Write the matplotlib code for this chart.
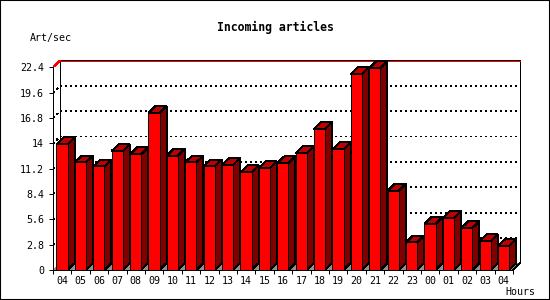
import matplotlib
matplotlib.use("Agg")
import matplotlib.pyplot as plt
from matplotlib.patches import Polygon, Rectangle

hours = ["04", "05", "06", "07", "08", "09", "10", "11", "12", "13", "14", "15", "16",
         "17", "18", "19", "20", "21", "22", "23", "00", "01", "02", "03", "04"]
values = [13.9, 11.9, 11.45, 13.15, 12.8, 17.35, 12.65, 11.9, 11.45, 11.6, 10.8, 11.25,
          11.8, 12.9, 15.6, 13.35, 21.65, 22.3, 8.75, 3.05, 5.1, 5.75, 4.65, 3.2, 2.65]
yticks = [0, 2.8, 5.6, 8.4, 11.2, 14, 16.8, 19.6, 22.4]
ytick_labels = ["0", "2.8", "5.6", "8.4", "11.2", "14", "16.8", "19.6", "22.4"]
title = "Incoming articles"
ylabel = "Art/sec"
xlabel = "Hours"

W, H = 550, 300
fig = plt.figure(figsize=(W / 100, H / 100), dpi=100)
fig.patch.set_facecolor("white")

n = len(values)
ymax = yticks[-1]
PXC = 18.4          # px per category
PXV = 9.05          # px per unit
DX = 7 / PXC        # depth in data units
DY = 6.8 / PXV

L, B = 53, 270
R = L + (n + DX) * PXC
T = B - (ymax + DY) * PXV
ax = fig.add_axes([L / W, 1 - B / H, (R - L) / W, (B - T) / H])
ax.set_xlim(0, n + DX)
ax.set_ylim(0, ymax + DY)
ax.set_facecolor("none")

lw = 0.72
mono = "DejaVu Sans Mono"

# floor
ax.add_patch(Polygon([(0, 0), (n, 0), (n + DX, DY), (DX, DY)], closed=True,
                     facecolor="#909090", edgecolor="none", zorder=1, antialiased=False))
ax.plot([n, n + DX], [0, DY], color="black", lw=lw, zorder=1.5, antialiased=False)

# back plane frame
ax.plot([DX, DX], [DY, ymax + DY], color="black", lw=lw, zorder=2, antialiased=False)
ax.plot([n + DX, n + DX], [DY, ymax + DY], color="black", lw=lw, zorder=2,
        antialiased=False, clip_on=False)
ax.plot([DX, n + DX], [ymax + DY, ymax + DY], color="black", lw=lw, zorder=2,
        antialiased=False, clip_on=False)
ax.plot([DX, n + DX], [ymax + DY - 1 / PXV, ymax + DY - 1 / PXV], color="red", lw=lw,
        zorder=2, antialiased=False, clip_on=False)
ax.plot([0, DX], [ymax, ymax + DY], color="red", lw=lw, zorder=2, antialiased=False)

# grid lines
for v in yticks[1:-1]:
    ax.plot([0, DX, n + DX], [v, v + DY, v + DY], color="black", lw=lw,
            linestyle=(0, (2, 3)), zorder=2, antialiased=False)

# bars
for i, v in enumerate(values):
    x0 = i + 0.19
    x1 = x0 + 0.6
    ax.add_patch(Polygon([(x1, 0), (x1 + DX, DY), (x1 + DX, v + DY), (x1, v)], closed=True,
                         facecolor="#800000", edgecolor="black", lw=lw, zorder=3,
                         antialiased=False))
    ax.add_patch(Polygon([(x0, v), (x1, v), (x1 + DX, v + DY), (x0 + DX, v + DY)], closed=True,
                         facecolor="#C00000", edgecolor="black", lw=lw, zorder=3,
                         antialiased=False, clip_on=False))
    ax.add_patch(Rectangle((x0, 0), x1 - x0, v, facecolor="#FF0000", edgecolor="black",
                           lw=lw, zorder=3.5, antialiased=False))

# axes
for s in ["top", "right"]:
    ax.spines[s].set_visible(False)
ax.spines["left"].set_bounds(0, ymax)
ax.spines["bottom"].set_bounds(0, n)
for s in ["left", "bottom"]:
    ax.spines[s].set_linewidth(lw)
    ax.spines[s].set_zorder(5)
    ax.spines[s].set_antialiased(False)

ax.set_yticks(yticks)
ax.set_yticklabels(ytick_labels, fontfamily=mono, fontsize=7.2)
ax.tick_params(axis="y", direction="out", length=3, width=lw, pad=3.5)

ax.set_xticks(range(n + 1))
ax.set_xticklabels([])
ax.set_xticks([i + 0.5 for i in range(n)], minor=True)
ax.set_xticklabels(hours, minor=True, fontfamily=mono, fontsize=7.2)
ax.tick_params(axis="x", which="major", direction="out", length=3, width=lw)
ax.tick_params(axis="x", which="minor", length=0, pad=4)

fig.text(275 / W, 1 - 27 / H, title, ha="center", va="center", fontfamily=mono,
         fontweight="bold", fontsize=8.3)
fig.text(30 / W, 1 - 37.5 / H, ylabel, ha="left", va="center", fontfamily=mono, fontsize=7.2)
fig.text(505 / W, 1 - 292 / H, xlabel, ha="left", va="center", fontfamily=mono, fontsize=7.2)

fig.patches.append(Rectangle((0, 0), 1, 1, transform=fig.transFigure, fill=False,
                             edgecolor="black", lw=1.5))

fig.savefig("out.png", dpi=100)
